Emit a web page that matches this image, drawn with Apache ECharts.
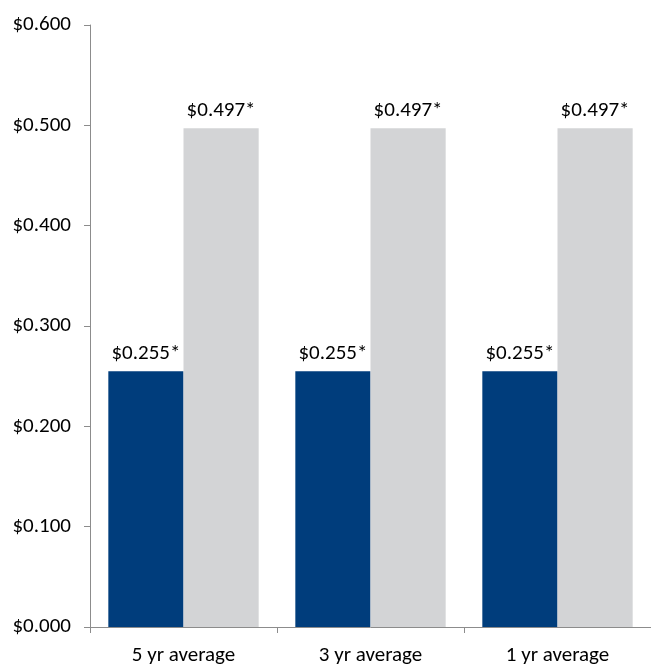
<!DOCTYPE html>
<html><head><meta charset="utf-8">
<script src="https://cdn.jsdelivr.net/npm/echarts@6/dist/echarts.min.js"></script>
<style>html,body{margin:0;padding:0;background:#fff}#c{width:651px;height:666px}</style>
</head><body><div id="c"></div>
<script>
const categories = ['5 yr average', '3 yr average', '1 yr average'];
const seriesA = [0.255, 0.255, 0.255];
const seriesB = [0.497, 0.497, 0.497];
const labelsA = ['$0.255*', '$0.255*', '$0.255*'];
const labelsB = ['$0.497*', '$0.497*', '$0.497*'];

const font = 'Carlito, Lato, "Open Sans", sans-serif';
const chart = echarts.init(document.getElementById('c'), null, {renderer: 'canvas'});
chart.setOption({
  animation: false,
  grid: {left: 90, right: -4, top: 25, bottom: 38, containLabel: false},
  xAxis: {
    type: 'category', data: categories,
    axisLine: {lineStyle: {color: '#8c8c8c', width: 1}},
    axisTick: {show: true, length: 6, lineStyle: {color: '#8c8c8c'}},
    axisLabel: {color: '#000', fontFamily: font, fontSize: 21, margin: 18}
  },
  yAxis: {
    type: 'value', min: 0, max: 0.6, interval: 0.1,
    axisLine: {show: true, lineStyle: {color: '#8c8c8c', width: 1}},
    axisTick: {show: true, length: 6, lineStyle: {color: '#8c8c8c'}},
    splitLine: {show: false},
    axisLabel: {color: '#000', fontFamily: font, fontSize: 21, margin: 19,
      formatter: v => '$' + v.toFixed(3)}
  },
  series: [
    {type: 'bar', data: seriesA, barGap: '0%', barCategoryGap: '19.6%',
     itemStyle: {color: '#003D7C'},
     label: {show: true, position: 'top', distance: 7, color: '#000', fontFamily: font, fontSize: 21,
       formatter: p => labelsA[p.dataIndex]}},
    {type: 'bar', data: seriesB, barGap: '0%', barCategoryGap: '19.6%',
     itemStyle: {color: '#D3D4D6'},
     label: {show: true, position: 'top', distance: 7, color: '#000', fontFamily: font, fontSize: 21,
       formatter: p => labelsB[p.dataIndex]}}
  ]
});
</script></body></html>
